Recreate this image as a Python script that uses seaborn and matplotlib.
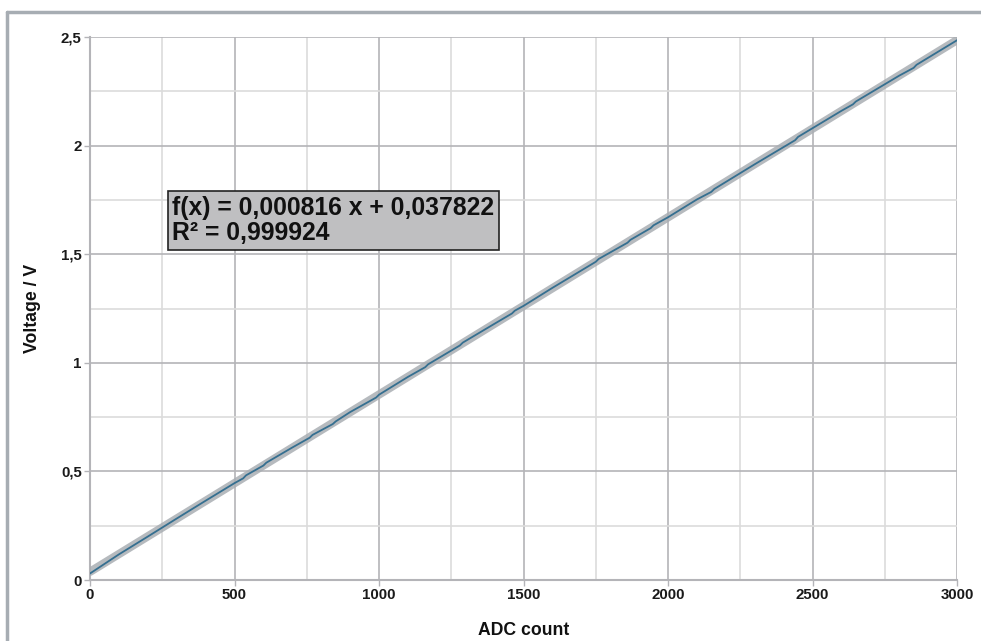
import numpy as np
import pandas as pd
import matplotlib
matplotlib.use("Agg")
import matplotlib.pyplot as plt
from matplotlib.lines import Line2D
from matplotlib.ticker import MultipleLocator, FixedLocator
import seaborn as sns

# ---- data ----
adc = [0, 100, 200, 300, 400, 500, 530, 540, 600, 610, 700, 760, 770, 840, 850,
       900, 990, 1000, 1100, 1160, 1170, 1280, 1290, 1400, 1460, 1470, 1500, 1600,
       1750, 1760, 1860, 1870, 1940, 1950, 2000, 2100, 2150, 2160, 2300, 2440, 2450,
       2600, 2640, 2650, 2800, 2850, 2860, 3000]
voltage = [0.030, 0.118, 0.200, 0.283, 0.365, 0.446, 0.468, 0.482, 0.527, 0.540,
           0.610, 0.655, 0.668, 0.718, 0.730, 0.773, 0.840, 0.853, 0.935, 0.980,
           0.993, 1.080, 1.093, 1.180, 1.227, 1.240, 1.262, 1.345, 1.465, 1.478,
           1.553, 1.566, 1.620, 1.633, 1.670, 1.752, 1.787, 1.800, 1.914, 2.025,
           2.040, 2.160, 2.190, 2.203, 2.322, 2.358, 2.372, 2.485]
slope = 0.000816
intercept = 0.037822
r_squared = 0.999924

x_ticks = [0, 500, 1000, 1500, 2000, 2500, 3000]
x_tick_labels = ["0", "500", "1000", "1500", "2000", "2500", "3000"]
y_ticks = [0, 0.5, 1, 1.5, 2, 2.5]
y_tick_labels = ["0", "0,5", "1", "1,5", "2", "2,5"]

df = pd.DataFrame({"ADC count": adc, "Voltage / V": voltage})


def comma(v):
    return f"{v:.6f}".replace(".", ",")


sns.set_theme(style="white")
plt.rcParams["font.family"] = ["Liberation Sans", "DejaVu Sans"]

fig = plt.figure(figsize=(9.81, 6.41), dpi=100)
ax = fig.add_axes([90 / 981, 1 - 580 / 641, (957 - 90) / 981, (580 - 37) / 641])

# trend line (gray, thick)
xs = np.array([0, 3000])
trend = pd.DataFrame({"ADC count": xs, "Voltage / V": slope * xs + intercept})
sns.lineplot(data=trend, x="ADC count", y="Voltage / V", ax=ax,
             color="#a9aeb3", linewidth=6, alpha=0.85, zorder=3)
# measured data
sns.lineplot(data=df, x="ADC count", y="Voltage / V", ax=ax,
             color="#356f90", linewidth=1.3, zorder=4)

ax.set_xlim(0, 3000)
ax.set_ylim(0, 2.5)
ax.xaxis.set_major_locator(FixedLocator(x_ticks))
ax.yaxis.set_major_locator(FixedLocator(y_ticks))
ax.xaxis.set_minor_locator(MultipleLocator(250))
ax.yaxis.set_minor_locator(MultipleLocator(0.25))
ax.set_xticklabels(x_tick_labels)
ax.set_yticklabels(y_tick_labels)

ax.grid(which="major", color="#b4b4b8", linewidth=1.2, zorder=0)
ax.grid(which="minor", color="#dcdcdc", linewidth=1.2, zorder=0)
ax.set_axisbelow(True)

for side in ["top", "right"]:
    ax.spines[side].set_visible(False)
for side in ["left", "bottom"]:
    ax.spines[side].set_color("#b4b4b8")
    ax.spines[side].set_linewidth(1.5)

ax.tick_params(axis="both", which="major", direction="out", length=4, width=1,
               color="#b4b4b8", labelsize=10.8, labelcolor="#1a1a1a", pad=2,
               bottom=True, left=True)
ax.tick_params(axis="both", which="minor", length=0)
for lbl in ax.get_xticklabels() + ax.get_yticklabels():
    lbl.set_fontweight("bold")

ax.set_xlabel("ADC count", fontsize=12.7, fontweight="bold", color="#111111", labelpad=14)
ax.set_ylabel("Voltage / V", fontsize=12.7, fontweight="bold", color="#111111", labelpad=14)

fig.text(172 / 981, 1 - 220.5 / 641,
         f"f(x) = {comma(slope)} x + {comma(intercept)}\nR² = {comma(r_squared)}",
         fontsize=17.8, fontweight="bold", color="#111111", va="center", ha="left",
         linespacing=1.08,
         bbox=dict(boxstyle="square,pad=0.18", facecolor="#bfbfc1", edgecolor="#222222", linewidth=1.2),
         zorder=10)

# outer frame of the chart
fig.add_artist(Line2D([7 / 981, 7 / 981], [0, 1 - 12 / 641], transform=fig.transFigure,
                      color="#a7adb3", linewidth=2.5))
fig.add_artist(Line2D([7 / 981, 1], [1 - 12 / 641, 1 - 12 / 641], transform=fig.transFigure,
                      color="#a7adb3", linewidth=2.5))

fig.savefig("out.png", dpi=100, facecolor="white")
